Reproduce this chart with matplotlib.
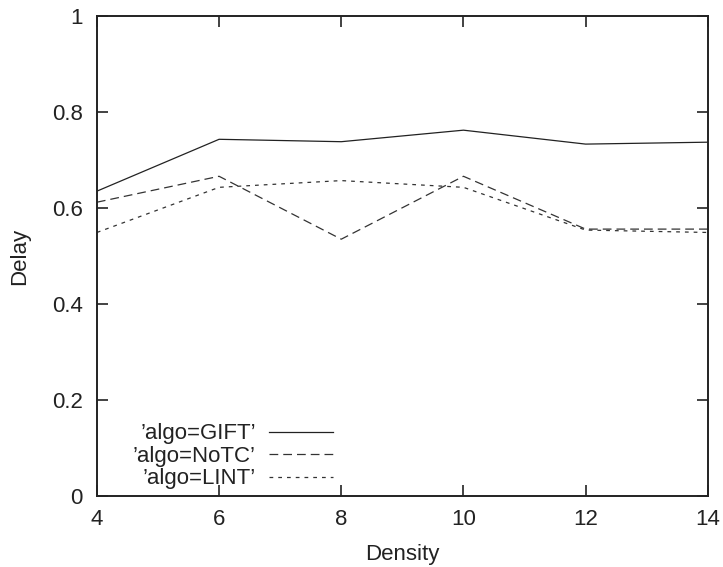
import matplotlib
matplotlib.use("Agg")
import matplotlib.pyplot as plt

plt.rcParams['font.family'] = ['Liberation Sans', 'DejaVu Sans']

density = [4, 6, 8, 10, 12, 14]
gift = [0.635, 0.743, 0.738, 0.762, 0.733, 0.737]
notc = [0.612, 0.666, 0.535, 0.666, 0.556, 0.556]
lint = [0.549, 0.643, 0.657, 0.643, 0.554, 0.549]

labels = ["\u2019algo=GIFT\u2019", "\u2019algo=NoTC\u2019", "\u2019algo=LINT\u2019"]
xticks = [4, 6, 8, 10, 12, 14]
yticks = [0, 0.2, 0.4, 0.6, 0.8, 1]
ytick_labels = ["0", "0.2", "0.4", "0.6", "0.8", "1"]

fs = 16
ink = '#222222'

fig = plt.figure(figsize=(7.23, 5.67), dpi=100)
ax = fig.add_axes([0.134, 0.125, 0.845, 0.847])

lw = 0.9
ax.plot(density, gift, color=ink, lw=lw, linestyle='-', label=labels[0])
ax.plot(density, notc, color='#333333', lw=lw, linestyle=(0, (7, 4)), label=labels[1])
ax.plot(density, lint, color='#333333', lw=lw, linestyle=(0, (3, 4)), label=labels[2])

ax.set_xlim(4, 14)
ax.set_ylim(0, 1)
ax.set_xticks(xticks)
ax.set_xticklabels([str(t) for t in xticks])
ax.set_yticks(yticks)
ax.set_yticklabels(ytick_labels)
ax.tick_params(direction='in', length=8, width=1.2, top=True, right=True,
               labelsize=fs, colors=ink)
ax.tick_params(axis='y', pad=10)
ax.tick_params(axis='x', pad=9)
for s in ax.spines.values():
    s.set_linewidth(1.4)
    s.set_color(ink)

ax.set_xlabel('Density', fontsize=fs, color=ink, labelpad=10)
ax.set_ylabel('Delay', fontsize=fs, color=ink, labelpad=16)

ax.legend(loc='lower right', bbox_to_anchor=(0.386, 0.014), frameon=False,
          markerfirst=False, fontsize=fs, handlelength=2.85,
          handletextpad=0.62, labelspacing=0.07, borderaxespad=0.0,
          borderpad=0.0, labelcolor=ink)

fig.savefig('out.png', dpi=100)
